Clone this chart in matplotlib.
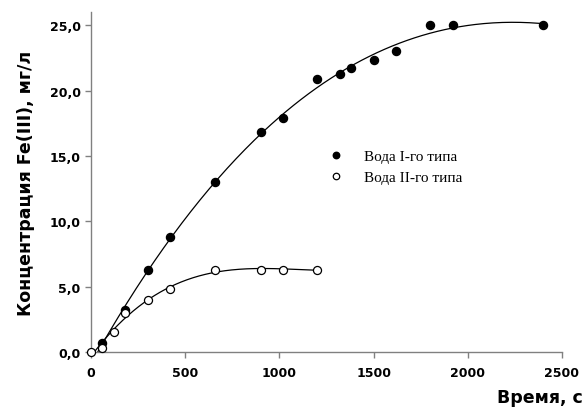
import numpy as np
import matplotlib
matplotlib.use("Agg")
import matplotlib.pyplot as plt
from matplotlib.ticker import FuncFormatter, MultipleLocator

# Data (time, s ; concentration Fe(III), mg/l)
t1 = [60, 180, 300, 420, 660, 900, 1020, 1200, 1320, 1380, 1500, 1620, 1800, 1920, 2400]
c1 = [0.7, 3.2, 6.3, 8.8, 13.0, 16.8, 17.9, 20.9, 21.3, 21.7, 22.3, 23.0, 25.0, 25.0, 25.0]
t2 = [0, 60, 120, 180, 300, 420, 660, 900, 1020, 1200]
c2 = [0.0, 0.3, 1.5, 3.0, 4.0, 4.8, 6.3, 6.3, 6.3, 6.3]
label1 = "Вода I-го типа"
label2 = "Вода II-го типа"
xlabel = "Время, с"
ylabel = "Концентрация Fe(III), мг/л"

fig = plt.figure(figsize=(5.85, 4.10), dpi=100)
ax = fig.add_axes([0.1556, 0.139, 0.805, 0.829])

# fitted trend curves
p1 = np.polyfit(t1, c1, 3)
x1 = np.linspace(0, max(t1), 300)
ax.plot(x1, np.polyval(p1, x1), color="black", lw=0.9, zorder=2)
p2 = np.polyfit(t2, c2, 3)
x2 = np.linspace(0, max(t2), 300)
ax.plot(x2, np.polyval(p2, x2), color="black", lw=0.9, zorder=2)

ax.plot(t1, c1, "o", color="black", ms=5.8, ls="none", label=label1, zorder=3, clip_on=False)
ax.plot(t2, c2, "o", mfc="white", mec="black", mew=0.9, ms=5.8, ls="none",
        label=label2, zorder=4, clip_on=False)

ax.set_xlim(0, 2500)
ax.set_ylim(0, 26)
ax.xaxis.set_major_locator(MultipleLocator(500))
ax.yaxis.set_major_locator(MultipleLocator(5))
ax.yaxis.set_major_formatter(FuncFormatter(lambda v, p: f"{v:.1f}".replace(".", ",")))

for s in ["top", "right"]:
    ax.spines[s].set_visible(False)
for s in ["left", "bottom"]:
    ax.spines[s].set_color("#808080")
    ax.spines[s].set_linewidth(1.0)
ax.tick_params(colors="#808080", labelcolor="black", length=4, width=1, direction="out")
for lab in ax.get_xticklabels() + ax.get_yticklabels():
    lab.set_fontweight("bold")
    lab.set_fontsize(9)
ax.tick_params(axis="x", pad=6)

ax.set_ylabel(ylabel, fontsize=12.5, fontweight="bold")
ax.yaxis.set_label_coords(-0.118, 0.5)
fig.text(0.997, 0.008, xlabel, ha="right", va="bottom", fontsize=12.5, fontweight="bold")

leg = ax.legend(loc="upper left", bbox_to_anchor=(0.491, 0.614), frameon=False,
                prop={"family": "Liberation Serif", "size": 11}, markerscale=0.8,
                handlelength=1.0, handletextpad=1.3, labelspacing=0.5,
                borderaxespad=0)

fig.savefig("out.png", dpi=100)
